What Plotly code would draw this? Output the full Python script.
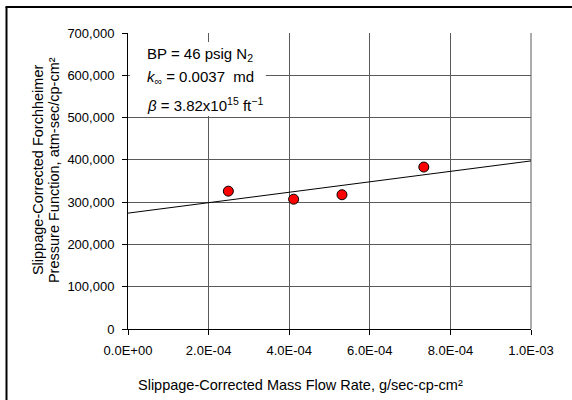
import plotly.graph_objects as go

# Data
mass_flow = [2.49e-4, 4.11e-4, 5.31e-4, 7.34e-4]
pressure_fn = [326000, 307000, 317500, 383000]

trend_x = [0.0, 1.0e-3]
trend_y = [274000, 397500]

x_tickvals = [0.0, 2.0e-4, 4.0e-4, 6.0e-4, 8.0e-4, 1.0e-3]
x_ticktext = ["0.0E+00", "2.0E-04", "4.0E-04", "6.0E-04", "8.0E-04", "1.0E-03"]
y_tickvals = [0, 100000, 200000, 300000, 400000, 500000, 600000, 700000]

annot_lines = [
    "BP = 46 psig N<sub>2</sub>",
    "<i>k</i><sub>∞</sub> = 0.0037  md",
    "<i>β</i> = 3.82x10<sup>15</sup> ft<sup>−1</sup>",
]
x_title = "Slippage-Corrected Mass Flow Rate, g/sec-cp-cm²"
y_title_lines = ["Slippage-Corrected Forchheimer",
                 "Pressure Function, atm-sec/cp-cm²"]

FONT = "Liberation Sans, Arial, sans-serif"
GRID = "#5a5a5a"

fig = go.Figure()
fig.add_trace(go.Scatter(x=trend_x, y=trend_y, mode="lines",
                         line=dict(color="black", width=1), showlegend=False,
                         hoverinfo="skip"))
fig.add_trace(go.Scatter(x=mass_flow, y=pressure_fn, mode="markers",
                         marker=dict(color="#ff0000", size=10,
                                     line=dict(color="black", width=1)),
                         showlegend=False))

fig.update_layout(
    width=572, height=400,
    margin=dict(l=128, r=41, t=33, b=71),
    paper_bgcolor="white", plot_bgcolor="white",
    font=dict(family=FONT, color="black", size=13),
    xaxis=dict(
        range=[0, 1.0e-3], tickvals=x_tickvals, ticktext=x_ticktext,
        showgrid=True, gridcolor=GRID, gridwidth=1,
        showline=True, linecolor="black", linewidth=1,
        ticks="outside", ticklen=5, tickcolor="black",
        tickfont=dict(size=13), zeroline=False, mirror=False,
        ticklabelstandoff=4,
    ),
    yaxis=dict(
        range=[0, 700000], tickvals=y_tickvals, tickformat=",d",
        showgrid=True, gridcolor=GRID, gridwidth=1,
        showline=True, linecolor="black", linewidth=1,
        ticks="outside", ticklen=5, tickcolor="black",
        tickfont=dict(size=13), zeroline=False,
        ticklabelstandoff=5,
    ),
)

# right border of plot area (grey)
fig.add_shape(type="line", xref="paper", yref="paper", x0=1, x1=1, y0=0, y1=1,
              line=dict(color=GRID, width=1), layer="below")

# white box behind the annotation text
fig.add_shape(type="rect", xref="paper", yref="paper",
              x0=0.005, x1=0.342, y0=0.72, y1=0.97,
              fillcolor="white", line=dict(width=0), layer="above")

ys = [0.926, 0.851, 0.757]
for txt, yy in zip(annot_lines, ys):
    fig.add_annotation(text=txt, xref="paper", yref="paper", x=0.042, y=yy,
                       xanchor="left", yanchor="middle", showarrow=False,
                       font=dict(size=15, family=FONT, color="black"))

# axis titles
fig.add_annotation(text=x_title, xref="paper", yref="paper", x=0.429, y=-0.189,
                   xanchor="center", yanchor="middle", showarrow=False,
                   font=dict(size=14.5, family=FONT, color="black"))
for txt, xx in zip(y_title_lines, [-0.2233, -0.1836]):
    fig.add_annotation(text=txt, xref="paper", yref="paper", x=xx, y=0.537,
                       xanchor="center", yanchor="middle", showarrow=False,
                       textangle=-90,
                       font=dict(size=14.5, family=FONT, color="black"))

# outer frame (left and top edges)
fig.add_shape(type="line", xref="paper", yref="paper",
              x0=-0.3015, x1=-0.3015, y0=1.088, y1=-0.3,
              line=dict(color="black", width=2))
fig.add_shape(type="line", xref="paper", yref="paper",
              x0=-0.304, x1=1.2, y0=1.088, y1=1.088,
              line=dict(color="black", width=2))

fig.write_html("out.html")
